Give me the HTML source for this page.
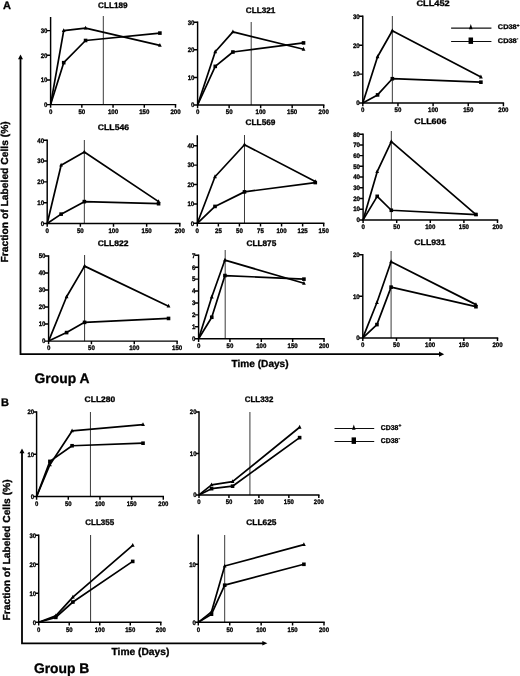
<!DOCTYPE html>
<html><head><meta charset="utf-8"><title>Figure</title>
<style>
html,body{margin:0;padding:0;background:#fff;}
body{width:520px;height:676px;overflow:hidden;}
svg{display:block;}
text{font-family:"Liberation Sans", Arial, sans-serif;font-weight:bold;fill:#000;text-rendering:geometricPrecision;stroke:#000;stroke-width:0.32px;}
.tk{font-size:6.5px;}
.tt{font-size:8px;}
.pl{font-size:11px;}
.gp{font-size:13.85px;}
.tm{font-size:10.15px;}
.fr{font-size:10.2px;}
.lg{font-size:7px;}
</style></head><body>
<svg width="520" height="676" viewBox="0 0 520 676">
<defs><filter id="soft" x="0" y="0" width="520" height="676" filterUnits="userSpaceOnUse"><feGaussianBlur stdDeviation="0.32"/></filter></defs>
<rect width="520" height="676" fill="#fff"/>
<g filter="url(#soft)">
<g><line x1="103.3" y1="16" x2="103.3" y2="104.6" stroke="#222" stroke-width="0.9"/>
<path d="M50.6 17.07V104.6H176.22" fill="none" stroke="#000" stroke-width="1.45"/>
<path d="M46.9 104.6H50.6M46.9 79.94H50.6M46.9 55.28H50.6M46.9 30.62H50.6M50.6 104.6V107.8M81.83 104.6V107.8M113.05 104.6V107.8M144.28 104.6V107.8M175.5 104.6V107.8" fill="none" stroke="#000" stroke-width="1.45"/>
<text transform="translate(47.5 106.9) scale(0.94 1)" text-anchor="end" class="tk">0</text>
<text transform="translate(47.5 82.24) scale(0.94 1)" text-anchor="end" class="tk">10</text>
<text transform="translate(47.5 57.58) scale(0.94 1)" text-anchor="end" class="tk">20</text>
<text transform="translate(47.5 32.92) scale(0.94 1)" text-anchor="end" class="tk">30</text>
<text transform="translate(50.6 113.9) scale(0.94 1)" text-anchor="middle" class="tk">0</text>
<text transform="translate(81.83 113.9) scale(0.94 1)" text-anchor="middle" class="tk">50</text>
<text transform="translate(113.05 113.9) scale(0.94 1)" text-anchor="middle" class="tk">100</text>
<text transform="translate(144.28 113.9) scale(0.94 1)" text-anchor="middle" class="tk">150</text>
<text transform="translate(175.5 113.9) scale(0.94 1)" text-anchor="middle" class="tk">200</text>
<polyline points="50.6,104.6 63.71,62.68 85.57,40.49 159.89,33.09" fill="none" stroke="#000" stroke-width="1.7" stroke-linejoin="round"/>
<polyline points="50.6,104.6 63.71,30.62 85.57,28.16 159.89,45.42" fill="none" stroke="#000" stroke-width="1.7" stroke-linejoin="round"/>
<rect x="61.91" y="60.88" width="3.6" height="3.6" fill="#000"/>
<rect x="83.77" y="38.69" width="3.6" height="3.6" fill="#000"/>
<rect x="158.09" y="31.29" width="3.6" height="3.6" fill="#000"/>
<path d="M63.71 28.22L65.61 32.02H61.81Z" fill="#000"/>
<path d="M85.57 25.76L87.47 29.56H83.67Z" fill="#000"/>
<path d="M159.89 43.02L161.79 46.82H157.99Z" fill="#000"/>
<text x="98.1" y="7.8" textLength="29.4" lengthAdjust="spacingAndGlyphs" class="tt">CLL189</text></g>
<g><line x1="251.19" y1="22" x2="251.19" y2="105" stroke="#222" stroke-width="0.9"/>
<path d="M197.6 21.47V105H324.43" fill="none" stroke="#000" stroke-width="1.45"/>
<path d="M193.9 105H197.6M193.9 77.4H197.6M193.9 49.8H197.6M193.9 22.2H197.6M197.6 105V108.2M229.12 105V108.2M260.65 105V108.2M292.17 105V108.2M323.7 105V108.2" fill="none" stroke="#000" stroke-width="1.45"/>
<text transform="translate(194.5 107.3) scale(0.94 1)" text-anchor="end" class="tk">0</text>
<text transform="translate(194.5 79.7) scale(0.94 1)" text-anchor="end" class="tk">10</text>
<text transform="translate(194.5 52.1) scale(0.94 1)" text-anchor="end" class="tk">20</text>
<text transform="translate(194.5 24.5) scale(0.94 1)" text-anchor="end" class="tk">30</text>
<text transform="translate(197.6 114.3) scale(0.94 1)" text-anchor="middle" class="tk">0</text>
<text transform="translate(229.12 114.3) scale(0.94 1)" text-anchor="middle" class="tk">50</text>
<text transform="translate(260.65 114.3) scale(0.94 1)" text-anchor="middle" class="tk">100</text>
<text transform="translate(292.17 114.3) scale(0.94 1)" text-anchor="middle" class="tk">150</text>
<text transform="translate(323.7 114.3) scale(0.94 1)" text-anchor="middle" class="tk">200</text>
<polyline points="197.6,105 215.25,66.36 232.91,52.01 303.52,42.9" fill="none" stroke="#000" stroke-width="1.7" stroke-linejoin="round"/>
<polyline points="197.6,105 215.25,51.73 232.91,31.86 303.52,49.25" fill="none" stroke="#000" stroke-width="1.7" stroke-linejoin="round"/>
<rect x="213.45" y="64.56" width="3.6" height="3.6" fill="#000"/>
<rect x="231.11" y="50.21" width="3.6" height="3.6" fill="#000"/>
<rect x="301.72" y="41.1" width="3.6" height="3.6" fill="#000"/>
<path d="M215.25 49.33L217.15 53.13H213.35Z" fill="#000"/>
<path d="M232.91 29.46L234.81 33.26H231.01Z" fill="#000"/>
<path d="M303.52 46.85L305.42 50.65H301.62Z" fill="#000"/>
<text x="245.83" y="13" textLength="29.55" lengthAdjust="spacingAndGlyphs" class="tt">CLL321</text></g>
<g><line x1="392.33" y1="16" x2="392.33" y2="103" stroke="#222" stroke-width="0.9"/>
<path d="M362.8 15.58V103H504.12" fill="none" stroke="#000" stroke-width="1.45"/>
<path d="M359.1 103H362.8M359.1 74.1H362.8M359.1 45.2H362.8M359.1 16.3H362.8M362.8 103V106.2M397.95 103V106.2M433.1 103V106.2M468.25 103V106.2M503.4 103V106.2" fill="none" stroke="#000" stroke-width="1.45"/>
<text transform="translate(359.7 105.3) scale(0.94 1)" text-anchor="end" class="tk">0</text>
<text transform="translate(359.7 76.4) scale(0.94 1)" text-anchor="end" class="tk">10</text>
<text transform="translate(359.7 47.5) scale(0.94 1)" text-anchor="end" class="tk">20</text>
<text transform="translate(359.7 18.6) scale(0.94 1)" text-anchor="end" class="tk">30</text>
<text transform="translate(362.8 112.3) scale(0.94 1)" text-anchor="middle" class="tk">0</text>
<text transform="translate(397.95 112.3) scale(0.94 1)" text-anchor="middle" class="tk">50</text>
<text transform="translate(433.1 112.3) scale(0.94 1)" text-anchor="middle" class="tk">100</text>
<text transform="translate(468.25 112.3) scale(0.94 1)" text-anchor="middle" class="tk">150</text>
<text transform="translate(503.4 112.3) scale(0.94 1)" text-anchor="middle" class="tk">200</text>
<polyline points="362.8,103 377.56,94.91 392.33,78.72 480.9,82.19" fill="none" stroke="#000" stroke-width="1.7" stroke-linejoin="round"/>
<polyline points="362.8,103 377.56,56.76 392.33,30.75 480.9,76.99" fill="none" stroke="#000" stroke-width="1.7" stroke-linejoin="round"/>
<rect x="375.76" y="93.11" width="3.6" height="3.6" fill="#000"/>
<rect x="390.53" y="76.92" width="3.6" height="3.6" fill="#000"/>
<rect x="479.1" y="80.39" width="3.6" height="3.6" fill="#000"/>
<path d="M377.56 54.36L379.46 58.16H375.66Z" fill="#000"/>
<path d="M392.33 28.35L394.23 32.15H390.43Z" fill="#000"/>
<path d="M480.9 74.59L482.8 78.39H479Z" fill="#000"/>
<text x="416.45" y="6" textLength="33.3" lengthAdjust="spacingAndGlyphs" class="tt">CLL452</text></g>
<g><line x1="84.33" y1="140" x2="84.33" y2="223.5" stroke="#222" stroke-width="0.9"/>
<path d="M47.2 139.47V223.5H180.53" fill="none" stroke="#000" stroke-width="1.45"/>
<path d="M43.5 223.5H47.2M43.5 202.68H47.2M43.5 181.85H47.2M43.5 161.02H47.2M43.5 140.2H47.2M47.2 223.5V226.7M80.35 223.5V226.7M113.5 223.5V226.7M146.65 223.5V226.7M179.8 223.5V226.7" fill="none" stroke="#000" stroke-width="1.45"/>
<text transform="translate(44.1 225.8) scale(0.94 1)" text-anchor="end" class="tk">0</text>
<text transform="translate(44.1 204.98) scale(0.94 1)" text-anchor="end" class="tk">10</text>
<text transform="translate(44.1 184.15) scale(0.94 1)" text-anchor="end" class="tk">20</text>
<text transform="translate(44.1 163.32) scale(0.94 1)" text-anchor="end" class="tk">30</text>
<text transform="translate(44.1 142.5) scale(0.94 1)" text-anchor="end" class="tk">40</text>
<text transform="translate(47.2 232.8) scale(0.94 1)" text-anchor="middle" class="tk">0</text>
<text transform="translate(80.35 232.8) scale(0.94 1)" text-anchor="middle" class="tk">50</text>
<text transform="translate(113.5 232.8) scale(0.94 1)" text-anchor="middle" class="tk">100</text>
<text transform="translate(146.65 232.8) scale(0.94 1)" text-anchor="middle" class="tk">150</text>
<text transform="translate(179.8 232.8) scale(0.94 1)" text-anchor="middle" class="tk">200</text>
<polyline points="47.2,223.5 61.12,214.13 84.33,201.63 158.58,203.72" fill="none" stroke="#000" stroke-width="1.7" stroke-linejoin="round"/>
<polyline points="47.2,223.5 61.12,165.19 84.33,152.07 158.58,201.63" fill="none" stroke="#000" stroke-width="1.7" stroke-linejoin="round"/>
<rect x="59.32" y="212.33" width="3.6" height="3.6" fill="#000"/>
<rect x="82.53" y="199.83" width="3.6" height="3.6" fill="#000"/>
<rect x="156.78" y="201.92" width="3.6" height="3.6" fill="#000"/>
<path d="M61.12 162.79L63.02 166.59H59.22Z" fill="#000"/>
<path d="M84.33 149.67L86.23 153.47H82.43Z" fill="#000"/>
<path d="M158.58 199.23L160.48 203.03H156.68Z" fill="#000"/>
<text x="97.8" y="130.4" textLength="31.3" lengthAdjust="spacingAndGlyphs" class="tt">CLL546</text></g>
<g><line x1="244.49" y1="135" x2="244.49" y2="223.3" stroke="#222" stroke-width="0.9"/>
<path d="M197.3 135.28V223.3H324.43" fill="none" stroke="#000" stroke-width="1.45"/>
<path d="M193.6 223.3H197.3M193.6 203.9H197.3M193.6 184.5H197.3M193.6 165.1H197.3M193.6 145.7H197.3M197.3 223.3V226.5M218.37 223.3V226.5M239.43 223.3V226.5M260.5 223.3V226.5M281.57 223.3V226.5M302.63 223.3V226.5M323.7 223.3V226.5" fill="none" stroke="#000" stroke-width="1.45"/>
<text transform="translate(194.2 225.6) scale(0.94 1)" text-anchor="end" class="tk">0</text>
<text transform="translate(194.2 206.2) scale(0.94 1)" text-anchor="end" class="tk">10</text>
<text transform="translate(194.2 186.8) scale(0.94 1)" text-anchor="end" class="tk">20</text>
<text transform="translate(194.2 167.4) scale(0.94 1)" text-anchor="end" class="tk">30</text>
<text transform="translate(194.2 148) scale(0.94 1)" text-anchor="end" class="tk">40</text>
<text transform="translate(197.3 232.6) scale(0.94 1)" text-anchor="middle" class="tk">0</text>
<text transform="translate(218.37 232.6) scale(0.94 1)" text-anchor="middle" class="tk">25</text>
<text transform="translate(239.43 232.6) scale(0.94 1)" text-anchor="middle" class="tk">50</text>
<text transform="translate(260.5 232.6) scale(0.94 1)" text-anchor="middle" class="tk">75</text>
<text transform="translate(281.57 232.6) scale(0.94 1)" text-anchor="middle" class="tk">100</text>
<text transform="translate(302.63 232.6) scale(0.94 1)" text-anchor="middle" class="tk">125</text>
<text transform="translate(323.7 232.6) scale(0.94 1)" text-anchor="middle" class="tk">150</text>
<polyline points="197.3,223.3 215,206.42 244.49,191.87 315.27,182.56" fill="none" stroke="#000" stroke-width="1.7" stroke-linejoin="round"/>
<polyline points="197.3,223.3 215,176.74 244.49,144.73 315.27,181.59" fill="none" stroke="#000" stroke-width="1.7" stroke-linejoin="round"/>
<rect x="213.2" y="204.62" width="3.6" height="3.6" fill="#000"/>
<rect x="242.69" y="190.07" width="3.6" height="3.6" fill="#000"/>
<rect x="313.47" y="180.76" width="3.6" height="3.6" fill="#000"/>
<path d="M215 174.34L216.9 178.14H213.1Z" fill="#000"/>
<path d="M244.49 142.33L246.39 146.13H242.59Z" fill="#000"/>
<path d="M315.27 179.19L317.17 182.99H313.37Z" fill="#000"/>
<text x="245.6" y="125.4" textLength="29.8" lengthAdjust="spacingAndGlyphs" class="tt">CLL569</text></g>
<g><line x1="391.32" y1="131" x2="391.32" y2="219.9" stroke="#222" stroke-width="0.9"/>
<path d="M363.1 133.47V219.9H498.23" fill="none" stroke="#000" stroke-width="1.45"/>
<path d="M359.4 219.9H363.1M359.4 209.19H363.1M359.4 198.47H363.1M359.4 187.76H363.1M359.4 177.05H363.1M359.4 166.34H363.1M359.4 155.62H363.1M359.4 144.91H363.1M359.4 134.2H363.1M363.1 219.9V223.1M396.7 219.9V223.1M430.3 219.9V223.1M463.9 219.9V223.1M497.5 219.9V223.1" fill="none" stroke="#000" stroke-width="1.45"/>
<text transform="translate(360 222.2) scale(0.94 1)" text-anchor="end" class="tk">0</text>
<text transform="translate(360 211.49) scale(0.94 1)" text-anchor="end" class="tk">10</text>
<text transform="translate(360 200.78) scale(0.94 1)" text-anchor="end" class="tk">20</text>
<text transform="translate(360 190.06) scale(0.94 1)" text-anchor="end" class="tk">30</text>
<text transform="translate(360 179.35) scale(0.94 1)" text-anchor="end" class="tk">40</text>
<text transform="translate(360 168.64) scale(0.94 1)" text-anchor="end" class="tk">50</text>
<text transform="translate(360 157.93) scale(0.94 1)" text-anchor="end" class="tk">60</text>
<text transform="translate(360 147.21) scale(0.94 1)" text-anchor="end" class="tk">70</text>
<text transform="translate(360 136.5) scale(0.94 1)" text-anchor="end" class="tk">80</text>
<text transform="translate(363.1 229.2) scale(0.94 1)" text-anchor="middle" class="tk">0</text>
<text transform="translate(396.7 229.2) scale(0.94 1)" text-anchor="middle" class="tk">50</text>
<text transform="translate(430.3 229.2) scale(0.94 1)" text-anchor="middle" class="tk">100</text>
<text transform="translate(463.9 229.2) scale(0.94 1)" text-anchor="middle" class="tk">150</text>
<text transform="translate(497.5 229.2) scale(0.94 1)" text-anchor="middle" class="tk">200</text>
<polyline points="363.1,219.9 377.21,196.33 391.32,210.26 476,214.54" fill="none" stroke="#000" stroke-width="1.7" stroke-linejoin="round"/>
<polyline points="363.1,219.9 377.21,171.69 391.32,141.7 476,214.54" fill="none" stroke="#000" stroke-width="1.7" stroke-linejoin="round"/>
<rect x="375.41" y="194.53" width="3.6" height="3.6" fill="#000"/>
<rect x="389.52" y="208.46" width="3.6" height="3.6" fill="#000"/>
<rect x="474.2" y="212.74" width="3.6" height="3.6" fill="#000"/>
<path d="M377.21 169.29L379.11 173.09H375.31Z" fill="#000"/>
<path d="M391.32 139.3L393.22 143.1H389.42Z" fill="#000"/>
<path d="M476 212.14L477.9 215.94H474.1Z" fill="#000"/>
<text x="414.38" y="124" textLength="32.05" lengthAdjust="spacingAndGlyphs" class="tt">CLL606</text></g>
<g><line x1="84.58" y1="255" x2="84.58" y2="341.1" stroke="#222" stroke-width="0.9"/>
<path d="M48.6 255.18V341.1H177.82" fill="none" stroke="#000" stroke-width="1.45"/>
<path d="M44.9 341.1H48.6M44.9 324.06H48.6M44.9 307.02H48.6M44.9 289.98H48.6M44.9 272.94H48.6M44.9 255.9H48.6M48.6 341.1V344.3M91.43 341.1V344.3M134.27 341.1V344.3M177.1 341.1V344.3" fill="none" stroke="#000" stroke-width="1.45"/>
<text transform="translate(45.5 343.4) scale(0.94 1)" text-anchor="end" class="tk">0</text>
<text transform="translate(45.5 326.36) scale(0.94 1)" text-anchor="end" class="tk">10</text>
<text transform="translate(45.5 309.32) scale(0.94 1)" text-anchor="end" class="tk">20</text>
<text transform="translate(45.5 292.28) scale(0.94 1)" text-anchor="end" class="tk">30</text>
<text transform="translate(45.5 275.24) scale(0.94 1)" text-anchor="end" class="tk">40</text>
<text transform="translate(45.5 258.2) scale(0.94 1)" text-anchor="end" class="tk">50</text>
<text transform="translate(48.6 350.4) scale(0.94 1)" text-anchor="middle" class="tk">0</text>
<text transform="translate(91.43 350.4) scale(0.94 1)" text-anchor="middle" class="tk">50</text>
<text transform="translate(134.27 350.4) scale(0.94 1)" text-anchor="middle" class="tk">100</text>
<text transform="translate(177.1 350.4) scale(0.94 1)" text-anchor="middle" class="tk">150</text>
<polyline points="48.6,341.1 66.59,332.58 84.58,322.36 168.53,318.44" fill="none" stroke="#000" stroke-width="1.7" stroke-linejoin="round"/>
<polyline points="48.6,341.1 66.59,296.8 84.58,266.12 168.53,306.17" fill="none" stroke="#000" stroke-width="1.7" stroke-linejoin="round"/>
<rect x="64.79" y="330.78" width="3.6" height="3.6" fill="#000"/>
<rect x="82.78" y="320.56" width="3.6" height="3.6" fill="#000"/>
<rect x="166.73" y="316.64" width="3.6" height="3.6" fill="#000"/>
<path d="M66.59 294.4L68.49 298.2H64.69Z" fill="#000"/>
<path d="M84.58 263.72L86.48 267.52H82.68Z" fill="#000"/>
<path d="M168.53 303.77L170.43 307.57H166.63Z" fill="#000"/>
<text x="97.7" y="245.6" textLength="30.8" lengthAdjust="spacingAndGlyphs" class="tt">CLL822</text></g>
<g><line x1="225.2" y1="250" x2="225.2" y2="338.7" stroke="#222" stroke-width="0.9"/>
<path d="M198.6 254.58V338.7H324.73" fill="none" stroke="#000" stroke-width="1.45"/>
<path d="M194.9 338.7H198.6M194.9 326.79H198.6M194.9 314.87H198.6M194.9 302.96H198.6M194.9 291.04H198.6M194.9 279.13H198.6M194.9 267.21H198.6M194.9 255.3H198.6M198.6 338.7V341.9M229.95 338.7V341.9M261.3 338.7V341.9M292.65 338.7V341.9M324 338.7V341.9" fill="none" stroke="#000" stroke-width="1.45"/>
<text transform="translate(195.5 341) scale(0.94 1)" text-anchor="end" class="tk">0</text>
<text transform="translate(195.5 329.09) scale(0.94 1)" text-anchor="end" class="tk">1</text>
<text transform="translate(195.5 317.17) scale(0.94 1)" text-anchor="end" class="tk">2</text>
<text transform="translate(195.5 305.26) scale(0.94 1)" text-anchor="end" class="tk">3</text>
<text transform="translate(195.5 293.34) scale(0.94 1)" text-anchor="end" class="tk">4</text>
<text transform="translate(195.5 281.43) scale(0.94 1)" text-anchor="end" class="tk">5</text>
<text transform="translate(195.5 269.51) scale(0.94 1)" text-anchor="end" class="tk">6</text>
<text transform="translate(195.5 257.6) scale(0.94 1)" text-anchor="end" class="tk">7</text>
<text transform="translate(198.6 348) scale(0.94 1)" text-anchor="middle" class="tk">0</text>
<text transform="translate(229.95 348) scale(0.94 1)" text-anchor="middle" class="tk">50</text>
<text transform="translate(261.3 348) scale(0.94 1)" text-anchor="middle" class="tk">100</text>
<text transform="translate(292.65 348) scale(0.94 1)" text-anchor="middle" class="tk">150</text>
<text transform="translate(324 348) scale(0.94 1)" text-anchor="middle" class="tk">200</text>
<polyline points="198.6,338.7 211.77,317.25 224.93,275.55 303.94,279.13" fill="none" stroke="#000" stroke-width="1.7" stroke-linejoin="round"/>
<polyline points="198.6,338.7 211.77,297 224.93,260.07 303.94,283.3" fill="none" stroke="#000" stroke-width="1.7" stroke-linejoin="round"/>
<rect x="209.97" y="315.45" width="3.6" height="3.6" fill="#000"/>
<rect x="223.13" y="273.75" width="3.6" height="3.6" fill="#000"/>
<rect x="302.14" y="277.33" width="3.6" height="3.6" fill="#000"/>
<path d="M211.77 294.6L213.67 298.4H209.87Z" fill="#000"/>
<path d="M224.93 257.67L226.83 261.47H223.03Z" fill="#000"/>
<path d="M303.94 280.9L305.84 284.7H302.04Z" fill="#000"/>
<text x="246.45" y="245.6" textLength="29.9" lengthAdjust="spacingAndGlyphs" class="tt">CLL875</text></g>
<g><line x1="391.09" y1="251" x2="391.09" y2="337.9" stroke="#222" stroke-width="0.9"/>
<path d="M362.8 253.97V337.9H498.23" fill="none" stroke="#000" stroke-width="1.45"/>
<path d="M359.1 337.9H362.8M359.1 296.3H362.8M359.1 254.7H362.8M362.8 337.9V341.1M396.48 337.9V341.1M430.15 337.9V341.1M463.82 337.9V341.1M497.5 337.9V341.1" fill="none" stroke="#000" stroke-width="1.45"/>
<text transform="translate(359.7 340.2) scale(0.94 1)" text-anchor="end" class="tk">0</text>
<text transform="translate(359.7 298.6) scale(0.94 1)" text-anchor="end" class="tk">10</text>
<text transform="translate(359.7 257) scale(0.94 1)" text-anchor="end" class="tk">20</text>
<text transform="translate(362.8 347.2) scale(0.94 1)" text-anchor="middle" class="tk">0</text>
<text transform="translate(396.48 347.2) scale(0.94 1)" text-anchor="middle" class="tk">50</text>
<text transform="translate(430.15 347.2) scale(0.94 1)" text-anchor="middle" class="tk">100</text>
<text transform="translate(463.82 347.2) scale(0.94 1)" text-anchor="middle" class="tk">150</text>
<text transform="translate(497.5 347.2) scale(0.94 1)" text-anchor="middle" class="tk">200</text>
<polyline points="362.8,337.9 376.94,324.59 391.09,287.15 475.95,306.7" fill="none" stroke="#000" stroke-width="1.7" stroke-linejoin="round"/>
<polyline points="362.8,337.9 376.94,302.54 391.09,261.77 475.95,304.62" fill="none" stroke="#000" stroke-width="1.7" stroke-linejoin="round"/>
<rect x="375.14" y="322.79" width="3.6" height="3.6" fill="#000"/>
<rect x="389.29" y="285.35" width="3.6" height="3.6" fill="#000"/>
<rect x="474.15" y="304.9" width="3.6" height="3.6" fill="#000"/>
<path d="M376.94 300.14L378.84 303.94H375.04Z" fill="#000"/>
<path d="M391.09 259.37L392.99 263.17H389.19Z" fill="#000"/>
<path d="M475.95 302.22L477.85 306.02H474.05Z" fill="#000"/>
<text x="414.35" y="244.75" textLength="31.3" lengthAdjust="spacingAndGlyphs" class="tt">CLL931</text></g>
<g><line x1="90.45" y1="412" x2="90.45" y2="496.5" stroke="#222" stroke-width="0.9"/>
<path d="M36.6 411.17V496.5H164.03" fill="none" stroke="#000" stroke-width="1.45"/>
<path d="M33.5 496.5H36.6M33.5 454.2H36.6M33.5 411.9H36.6M36.6 496.5V499.7M68.28 496.5V499.7M99.95 496.5V499.7M131.62 496.5V499.7M163.3 496.5V499.7" fill="none" stroke="#000" stroke-width="1.45"/>
<text transform="translate(34.1 498.8) scale(0.92 1)" text-anchor="end" class="tk">0</text>
<text transform="translate(34.1 456.5) scale(0.92 1)" text-anchor="end" class="tk">10</text>
<text transform="translate(34.1 414.2) scale(0.92 1)" text-anchor="end" class="tk">20</text>
<text transform="translate(36.6 505.8) scale(0.92 1)" text-anchor="middle" class="tk">0</text>
<text transform="translate(68.28 505.8) scale(0.92 1)" text-anchor="middle" class="tk">50</text>
<text transform="translate(99.95 505.8) scale(0.92 1)" text-anchor="middle" class="tk">100</text>
<text transform="translate(131.62 505.8) scale(0.92 1)" text-anchor="middle" class="tk">150</text>
<text transform="translate(163.3 505.8) scale(0.92 1)" text-anchor="middle" class="tk">200</text>
<polyline points="36.6,496.5 49.9,461.39 72.08,445.74 143.03,443.2" fill="none" stroke="#000" stroke-width="1.7" stroke-linejoin="round"/>
<polyline points="36.6,496.5 49.9,464.77 72.08,430.93 143.03,424.59" fill="none" stroke="#000" stroke-width="1.7" stroke-linejoin="round"/>
<rect x="48.1" y="459.59" width="3.6" height="3.6" fill="#000"/>
<rect x="70.28" y="443.94" width="3.6" height="3.6" fill="#000"/>
<rect x="141.23" y="441.4" width="3.6" height="3.6" fill="#000"/>
<path d="M49.9 462.38L51.8 466.17H48Z" fill="#000"/>
<path d="M72.08 428.53L73.98 432.33H70.18Z" fill="#000"/>
<path d="M143.03 422.19L144.93 425.99H141.13Z" fill="#000"/>
<text x="84.62" y="402.1" textLength="30.55" lengthAdjust="spacingAndGlyphs" class="tt">CLL280</text></g>
<g><line x1="249.92" y1="412" x2="249.92" y2="494.9" stroke="#222" stroke-width="0.9"/>
<path d="M199 411.17V494.9H319.53" fill="none" stroke="#000" stroke-width="1.45"/>
<path d="M195.9 494.9H199M195.9 453.4H199M195.9 411.9H199M199 494.9V498.1M228.95 494.9V498.1M258.9 494.9V498.1M288.85 494.9V498.1M318.8 494.9V498.1" fill="none" stroke="#000" stroke-width="1.45"/>
<text transform="translate(196.5 497.2) scale(0.92 1)" text-anchor="end" class="tk">0</text>
<text transform="translate(196.5 455.7) scale(0.92 1)" text-anchor="end" class="tk">10</text>
<text transform="translate(196.5 414.2) scale(0.92 1)" text-anchor="end" class="tk">20</text>
<text transform="translate(199 504.2) scale(0.92 1)" text-anchor="middle" class="tk">0</text>
<text transform="translate(228.95 504.2) scale(0.92 1)" text-anchor="middle" class="tk">50</text>
<text transform="translate(258.9 504.2) scale(0.92 1)" text-anchor="middle" class="tk">100</text>
<text transform="translate(288.85 504.2) scale(0.92 1)" text-anchor="middle" class="tk">150</text>
<text transform="translate(318.8 504.2) scale(0.92 1)" text-anchor="middle" class="tk">200</text>
<polyline points="199,494.9 211.58,488.67 232.54,486.19 299.63,437.63" fill="none" stroke="#000" stroke-width="1.7" stroke-linejoin="round"/>
<polyline points="199,494.9 211.58,484.94 232.54,481.62 299.63,427.25" fill="none" stroke="#000" stroke-width="1.7" stroke-linejoin="round"/>
<rect x="209.78" y="486.87" width="3.6" height="3.6" fill="#000"/>
<rect x="230.74" y="484.38" width="3.6" height="3.6" fill="#000"/>
<rect x="297.83" y="435.83" width="3.6" height="3.6" fill="#000"/>
<path d="M211.58 482.54L213.48 486.34H209.68Z" fill="#000"/>
<path d="M232.54 479.22L234.44 483.02H230.64Z" fill="#000"/>
<path d="M299.63 424.86L301.53 428.65H297.73Z" fill="#000"/>
<text x="244.83" y="402.1" textLength="28.55" lengthAdjust="spacingAndGlyphs" class="tt">CLL332</text></g>
<g><line x1="90.59" y1="535" x2="90.59" y2="622.3" stroke="#222" stroke-width="0.9"/>
<path d="M38.7 534.57V622.3H161.53" fill="none" stroke="#000" stroke-width="1.45"/>
<path d="M35.6 622.3H38.7M35.6 593.3H38.7M35.6 564.3H38.7M35.6 535.3H38.7M38.7 622.3V625.5M69.23 622.3V625.5M99.75 622.3V625.5M130.28 622.3V625.5M160.8 622.3V625.5" fill="none" stroke="#000" stroke-width="1.45"/>
<text transform="translate(36.2 624.6) scale(0.92 1)" text-anchor="end" class="tk">0</text>
<text transform="translate(36.2 595.6) scale(0.92 1)" text-anchor="end" class="tk">10</text>
<text transform="translate(36.2 566.6) scale(0.92 1)" text-anchor="end" class="tk">20</text>
<text transform="translate(36.2 537.6) scale(0.92 1)" text-anchor="end" class="tk">30</text>
<text transform="translate(38.7 631.6) scale(0.92 1)" text-anchor="middle" class="tk">0</text>
<text transform="translate(69.23 631.6) scale(0.92 1)" text-anchor="middle" class="tk">50</text>
<text transform="translate(99.75 631.6) scale(0.92 1)" text-anchor="middle" class="tk">100</text>
<text transform="translate(130.28 631.6) scale(0.92 1)" text-anchor="middle" class="tk">150</text>
<text transform="translate(160.8 631.6) scale(0.92 1)" text-anchor="middle" class="tk">200</text>
<polyline points="38.7,622.3 55.79,617.37 72.89,602 132.72,561.4" fill="none" stroke="#000" stroke-width="1.7" stroke-linejoin="round"/>
<polyline points="38.7,622.3 55.79,615.92 72.89,597.07 132.72,545.45" fill="none" stroke="#000" stroke-width="1.7" stroke-linejoin="round"/>
<rect x="53.99" y="615.57" width="3.6" height="3.6" fill="#000"/>
<rect x="71.09" y="600.2" width="3.6" height="3.6" fill="#000"/>
<rect x="130.92" y="559.6" width="3.6" height="3.6" fill="#000"/>
<path d="M55.79 613.52L57.69 617.32H53.89Z" fill="#000"/>
<path d="M72.89 594.67L74.79 598.47H70.99Z" fill="#000"/>
<path d="M132.72 543.05L134.62 546.85H130.82Z" fill="#000"/>
<text x="85.25" y="524.75" textLength="28.9" lengthAdjust="spacingAndGlyphs" class="tt">CLL355</text></g>
<g><line x1="224.7" y1="535" x2="224.7" y2="622.3" stroke="#222" stroke-width="0.9"/>
<path d="M198.3 534.57V622.3H324.73" fill="none" stroke="#000" stroke-width="1.45"/>
<path d="M195.2 622.3H198.3M195.2 564.3H198.3M198.3 622.3V625.5M229.73 622.3V625.5M261.15 622.3V625.5M292.57 622.3V625.5M324 622.3V625.5" fill="none" stroke="#000" stroke-width="1.45"/>
<text transform="translate(195.8 624.6) scale(0.92 1)" text-anchor="end" class="tk">0</text>
<text transform="translate(195.8 566.6) scale(0.92 1)" text-anchor="end" class="tk">10</text>
<text transform="translate(198.3 631.6) scale(0.92 1)" text-anchor="middle" class="tk">0</text>
<text transform="translate(229.73 631.6) scale(0.92 1)" text-anchor="middle" class="tk">50</text>
<text transform="translate(261.15 631.6) scale(0.92 1)" text-anchor="middle" class="tk">100</text>
<text transform="translate(292.57 631.6) scale(0.92 1)" text-anchor="middle" class="tk">150</text>
<text transform="translate(324 631.6) scale(0.92 1)" text-anchor="middle" class="tk">200</text>
<polyline points="198.3,622.3 211.5,614.18 224.7,585.18 303.89,564.3" fill="none" stroke="#000" stroke-width="1.7" stroke-linejoin="round"/>
<polyline points="198.3,622.3 211.5,611.86 224.7,566.04 303.89,544.58" fill="none" stroke="#000" stroke-width="1.7" stroke-linejoin="round"/>
<rect x="209.7" y="612.38" width="3.6" height="3.6" fill="#000"/>
<rect x="222.9" y="583.38" width="3.6" height="3.6" fill="#000"/>
<rect x="302.09" y="562.5" width="3.6" height="3.6" fill="#000"/>
<path d="M211.5 609.46L213.4 613.26H209.6Z" fill="#000"/>
<path d="M224.7 563.64L226.6 567.44H222.8Z" fill="#000"/>
<path d="M303.89 542.18L305.79 545.98H301.99Z" fill="#000"/>
<text x="246.3" y="524.75" textLength="30.2" lengthAdjust="spacingAndGlyphs" class="tt">CLL625</text></g>
<path d="M20.5 58V354.15H440" fill="none" stroke="#000" stroke-width="1.8" stroke-linejoin="miter"/>
<path d="M20.5 54.4L23 59.2H18Z" fill="#000"/>
<path d="M444.2 354.15L439 351.6V356.7Z" fill="#000"/>
<path d="M22 452V643.3H263" fill="none" stroke="#000" stroke-width="1.8" stroke-linejoin="miter"/>
<path d="M22 448.4L24.5 453.2H19.5Z" fill="#000"/>
<path d="M267.4 643.3L262.3 641V645.6Z" fill="#000"/>
<text x="3.1" y="9.4" class="pl">A</text>
<text x="0.9" y="406.3" class="pl">B</text>
<text x="34.6" y="383" class="gp">Group A</text>
<text x="33.9" y="673.3" class="gp">Group B</text>
<text x="231.6" y="366.7" textLength="57" lengthAdjust="spacingAndGlyphs" class="tm">Time (Days)</text>
<text x="111.5" y="655.2" textLength="57.8" lengthAdjust="spacingAndGlyphs" class="tm">Time (Days)</text>
<text transform="translate(7.7 262.55) rotate(-90)" textLength="141.3" lengthAdjust="spacingAndGlyphs" class="fr">Fraction of Labeled Cells (%)</text>
<text transform="translate(10 620.6) rotate(-90)" textLength="141.3" lengthAdjust="spacingAndGlyphs" class="fr">Fraction of Labeled Cells (%)</text>
<path d="M451.1 28.1H491.4M451.1 41.5H491.4" stroke="#111" stroke-width="1.15" fill="none"/>
<path d="M470.8 24.0L472.6 29.3H469.0Z" fill="#000"/>
<rect x="468.55" y="37.5" width="4.5" height="6.4" fill="#000"/>
<text x="497.8" y="29.2" textLength="18.9" lengthAdjust="spacingAndGlyphs" style="font-size:6.7px">CD38</text>
<text x="516.8" y="27" style="font-size:4.56px">+</text>
<text x="497.8" y="42.7" textLength="18.9" lengthAdjust="spacingAndGlyphs" style="font-size:6.7px">CD38</text>
<text x="516.8" y="40.1" style="font-size:4.56px">-</text>
<path d="M334.5 428.5H374.2M334.5 441.5H374.2" stroke="#111" stroke-width="1.15" fill="none"/>
<path d="M353.8 424.4L355.6 429.7H352.0Z" fill="#000"/>
<rect x="351.6" y="437.4" width="4.4" height="6.5" fill="#000"/>
<text x="380.8" y="429.6" textLength="17.5" lengthAdjust="spacingAndGlyphs" style="font-size:7.1px">CD38</text>
<text x="398.4" y="427.4" style="font-size:4.83px">+</text>
<text x="380.8" y="443" textLength="17.5" lengthAdjust="spacingAndGlyphs" style="font-size:7.1px">CD38</text>
<text x="398.4" y="440.4" style="font-size:4.83px">-</text>
</g>
</svg>
</body></html>
